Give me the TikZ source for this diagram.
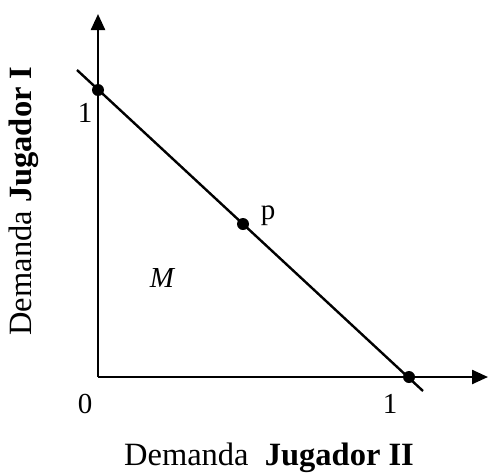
\documentclass[tikz,border=0pt]{standalone}
\usepackage{fontspec}
\setmainfont{Liberation Serif}
\usetikzlibrary{arrows.meta}
\begin{document}
\begin{tikzpicture}[x=1pt,y=-1pt,
  ax/.style={line width=2.4pt,-{Triangle[length=16pt,width=14pt]}},
  ln/.style={line width=2.4pt},
  dot/.style={circle,fill=black,inner sep=0pt,minimum size=12pt},
  lbl/.style={font=\fontsize{29}{31}\selectfont,inner sep=0pt},
  axl/.style={font=\fontsize{32.5}{34}\selectfont,inner sep=0pt}]
\useasboundingbox (0,0) rectangle (490,474);
\coordinate (o) at (98,377);
\coordinate (ytip) at (98,14);
\coordinate (xtip) at (488,377);
\coordinate (ls) at (77,70);
\coordinate (le) at (423,391);
\draw[ax] (o) -- (ytip);
\draw[ax] (o) -- (xtip);
\draw[ln] (ls) -- (le);
\node[dot] (a) at (98,90) {};
\node[dot] (p) at (243,224) {};
\node[dot] (b) at (409,377) {};
\node[lbl] (one1) at (85,113) {1};
\node[lbl] (zero) at (85,404) {0};
\node[lbl] (one2) at (390,404) {1};
\node[lbl] (plab) at (268,216) {p};
\node[lbl] (m) at (162,278) {\itshape M};
\node[axl,rotate=90] (ylab) at (24,201) {Demanda \textbf{Jugador I}};
\node[axl] (xlab) at (269,458) {Demanda\ \ \textbf{Jugador II}};
\end{tikzpicture}
\end{document}
